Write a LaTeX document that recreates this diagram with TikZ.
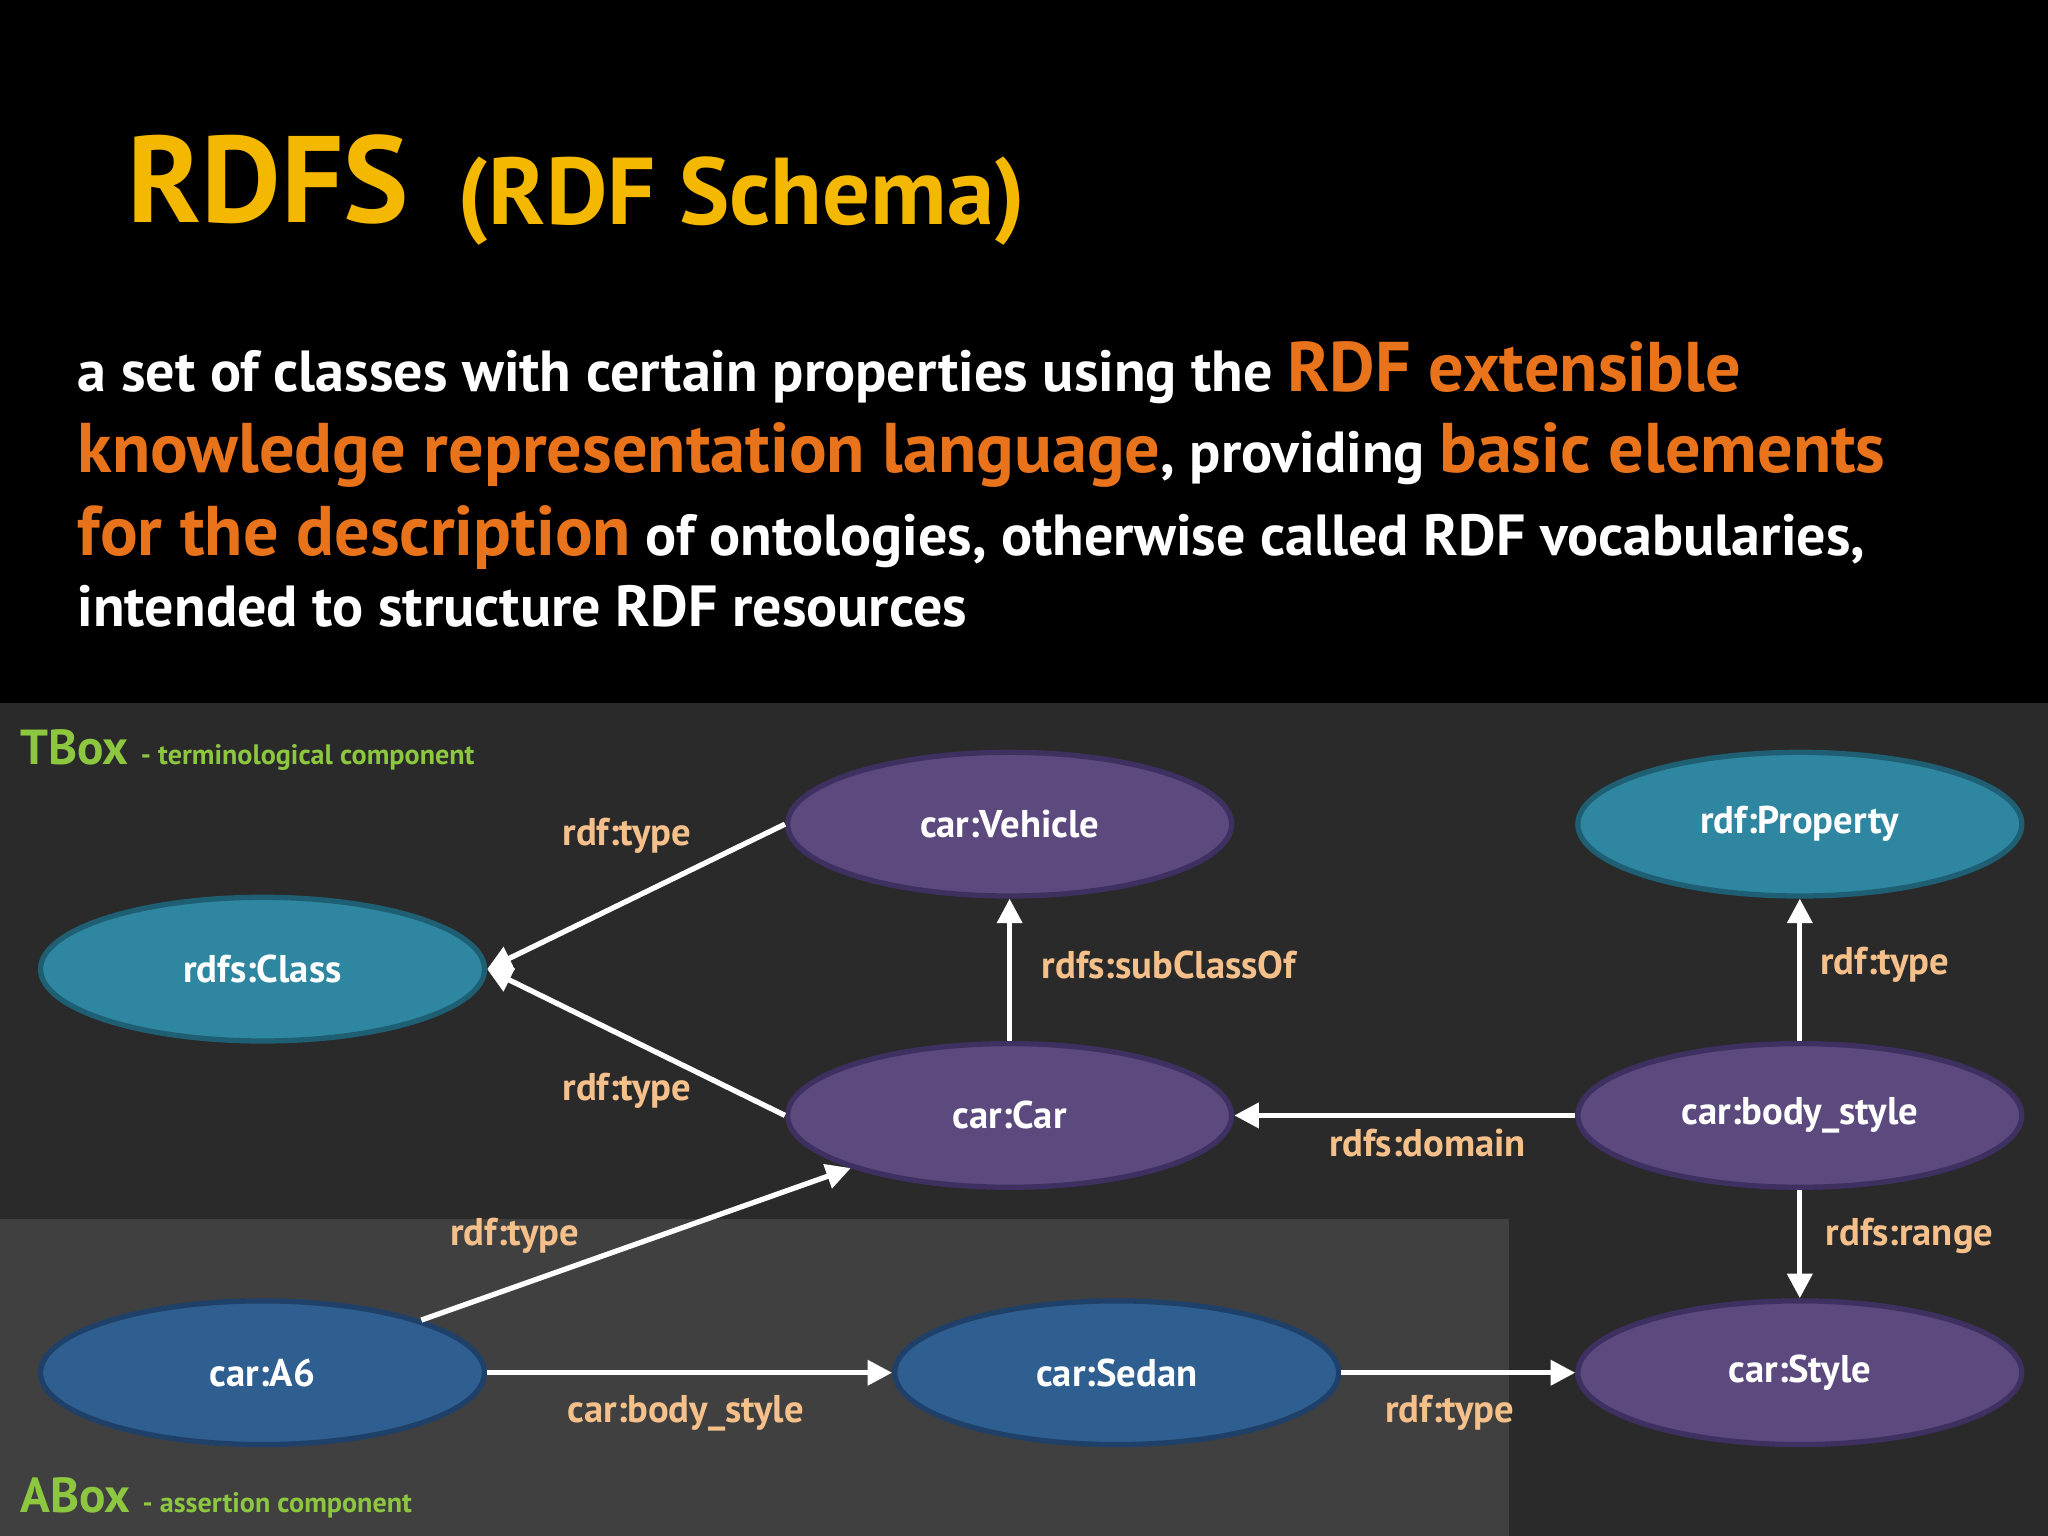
\documentclass[tikz,border=0pt]{standalone}
\usepackage{fontspec}
\setmainfont{PT Sans}
\usetikzlibrary{arrows.meta,shapes.geometric}
\definecolor{titleY}{HTML}{F5B800}
\definecolor{orng}{HTML}{E8731A}
\definecolor{peach}{HTML}{F5C08A}
\definecolor{grn}{HTML}{8DC63F}
\definecolor{purp}{HTML}{5C4A7F}
\definecolor{purpB}{HTML}{3E3060}
\definecolor{teal}{HTML}{2E86A0}
\definecolor{tealB}{HTML}{1F5F73}
\definecolor{blu}{HTML}{2F5F90}
\definecolor{bluB}{HTML}{1F4068}
\definecolor{tbox}{HTML}{2A2A2A}
\definecolor{abox}{HTML}{404040}
\tikzset{
  ell/.style={ellipse,minimum width=4.44cm,minimum height=1.437cm,inner sep=0,line width=1.5pt,text=white,font=\bfseries\fontsize{11}{12}\selectfont},
  purpell/.style={ell,fill=purp,draw=purpB},
  tealell/.style={ell,fill=teal,draw=tealB},
  bluell/.style={ell,fill=blu,draw=bluB},
  arr/.style={draw=white,line width=1.5pt,-{Triangle[length=7pt,width=7pt]}},
  lbl/.style={text=peach,font=\bfseries\fontsize{11}{12}\selectfont},
  body/.style={anchor=base west,inner sep=0,text=white,font=\bfseries\fontsize{16.5}{18}\selectfont},
}
\begin{document}
\begin{tikzpicture}[x=0.013061cm,y=-0.013061cm]
\useasboundingbox (0,0) rectangle (1568,1176);
\fill[black] (0,0) rectangle (1568,538);
\fill[tbox] (0,538) rectangle (1568,1176);
\fill[abox] (0,933) rectangle (1155,1176);
\node[anchor=base west,inner sep=0,text=titleY,font=\bfseries\fontsize{35}{40}\selectfont] (t1) at (97,170) {RDFS};
\node[anchor=base west,inner sep=0,text=titleY,font=\bfseries\fontsize{27}{30}\selectfont] (t2) at (350,172) {(RDF Schema)};
\node[body] (l1) at (59,300) {a set of classes with certain properties using the \textcolor{orng}{\fontsize{20}{20}\selectfont RDF extensible}};
\node[body] (l2) at (59,362) {\textcolor{orng}{\fontsize{20}{20}\selectfont knowledge representation language}, providing \textcolor{orng}{\fontsize{20}{20}\selectfont basic elements}};
\node[body] (l3) at (59,425) {\textcolor{orng}{\fontsize{20}{20}\selectfont for the description} of ontologies, otherwise called RDF vocabularies,};
\node[body] (l4) at (59,480) {intended to structure RDF resources};
\node[anchor=base west,inner sep=0,text=grn,font=\bfseries\fontsize{14}{15}\selectfont] (tb) at (15,585) {TBox \fontsize{8}{9}\selectfont - terminological component};
\node[anchor=base west,inner sep=0,text=grn,font=\bfseries\fontsize{14}{15}\selectfont] (ab) at (15,1158) {ABox \fontsize{8}{9}\selectfont - assertion component};
\node[purpell] (veh) at (773,631) {car:Vehicle};
\node[tealell] (prop) at (1378,631) {rdf:Property};
\node[tealell] (cls) at (201,742) {rdfs:Class};
\node[purpell] (car) at (773,854) {car:Car};
\node[purpell] (bs) at (1378,854) {car:body\_style};
\node[bluell] (a6) at (201,1051) {car:A6};
\node[bluell] (sed) at (855,1051) {car:Sedan};
\node[purpell] (sty) at (1378,1051) {car:Style};
\draw[arr] (veh.west) -- (cls.east);
\draw[arr] (car.west) -- (cls.east);
\draw[arr] (car.north) -- (veh.south);
\draw[arr] (bs.north) -- (prop.south);
\draw[arr] (bs.west) -- (car.east);
\draw[arr] (bs.south) -- (sty.north);
\draw[arr] (a6.north east) -- (car.south west);
\draw[arr] (a6.east) -- (sed.west);
\draw[arr] (sed.east) -- (sty.west);
\node[lbl] (e1) at (480,640) {rdf:type};
\node[lbl] (e2) at (480,835) {rdf:type};
\node[lbl] (e3) at (895,739) {rdfs:subClassOf};
\node[lbl] (e4) at (1443,739) {rdf:type};
\node[lbl] (e5) at (1093,875) {rdfs:domain};
\node[lbl] (e6) at (1462,946) {rdfs:range};
\node[lbl] (e7) at (394,946) {rdf:type};
\node[lbl] (e8) at (525,1082) {car:body\_style};
\node[lbl] (e9) at (1110,1082) {rdf:type};
\end{tikzpicture}
\end{document}
